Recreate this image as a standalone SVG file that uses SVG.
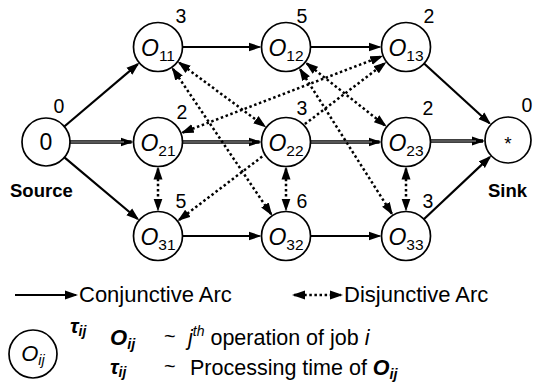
<svg xmlns="http://www.w3.org/2000/svg" width="533" height="383" viewBox="0 0 533 383">
<style>
text{font-family:"Liberation Sans",Arial,sans-serif;fill:#000}
.nd{fill:#fff;stroke:#000;stroke-width:1.7}
.lbl{font-size:23px}
.op{font-size:23px;font-style:italic}
.sub{font-size:15.5px}
.w{font-size:19.5px}
.tag{font-size:18.5px;font-weight:bold}
.conj{stroke:#000;stroke-width:2.2;fill:none;marker-end:url(#ah)}
.dbl{stroke:#000;stroke-width:3.6;fill:none;marker-end:url(#ah)}
.dblin{stroke:#aaa;stroke-width:1;fill:none}
.disj{stroke:#000;stroke-width:2.5;stroke-dasharray:2.5 2.6;fill:none;marker-start:url(#ah2);marker-end:url(#ah2)}
.leg{font-size:22px}
.bi{font-weight:bold;font-style:italic}
</style>
<defs>
<marker id="ah" viewBox="0 0 13 10" refX="11" refY="5" markerWidth="13" markerHeight="10" orient="auto" markerUnits="userSpaceOnUse"><path d="M0,0.5 L13,5 L0,9.5 z" fill="#000"/></marker>
<marker id="ah2" viewBox="0 0 13 10" refX="11" refY="5" markerWidth="13" markerHeight="10" orient="auto-start-reverse" markerUnits="userSpaceOnUse"><path d="M0,0.5 L13,5 L0,9.5 z" fill="#000"/></marker>
</defs>

<g id="connectors">
<path class="conj" d="M64.3,126.5 L137.8,64.1"/>
<path class="dbl" d="M70,142 L131.5,142"/><path class="dblin" d="M70,142 L124,142"/>
<path class="conj" d="M64.4,157.4 L137.7,219"/>
<path class="conj" d="M182.5,47 L259.5,47"/>
<path class="conj" d="M310.5,47 L379.5,47"/>
<path class="dbl" d="M182.5,142 L259.5,142"/><path class="dblin" d="M182.5,142 L252,142"/>
<path class="dbl" d="M310.5,142 L379.5,142"/><path class="dblin" d="M310.5,142 L372,142"/>
<path class="conj" d="M182.5,236 L259.5,236"/>
<path class="conj" d="M310.5,236 L379.5,236"/>
<path class="conj" d="M424.1,63.5 L489.5,123.2"/>
<path class="dbl" d="M430.5,141 L483,141"/><path class="dblin" d="M430.5,141 L476,141"/>
<path class="conj" d="M423.8,219.2 L489.8,157.1"/>

<path class="disj" d="M158,168.5 L158,209.5"/>
<path class="disj" d="M286,168.5 L286,209.5"/>
<path class="disj" d="M406,168.5 L406,209.5"/>
<path class="disj" d="M179.3,62.8 L264.7,126.2"/>
<path class="disj" d="M172.9,68.9 L271.1,214.1"/>
<path class="disj" d="M182.7,132.5 L381.3,56.5"/>
<path class="disj" d="M179.1,219.9 L384.9,63.1"/>
<path class="disj" d="M306.8,63.5 L385.2,125.6"/>
<path class="disj" d="M300.2,69.4 L391.8,213.6"/>
</g>

<g id="n-source">
<circle class="nd" cx="46" cy="142" r="24"/>
<text class="lbl" x="46" y="150" text-anchor="middle">0</text>
<text class="w" x="59" y="113" text-anchor="middle">0</text>
<text class="tag" x="10" y="197">Source</text>
</g>
<g id="n-o11">
<circle class="nd" cx="158" cy="47" r="24.5"/>
<text x="158" y="56" text-anchor="middle"><tspan class="op">O</tspan><tspan class="sub" dy="5">11</tspan></text>
<text class="w" x="181" y="23" text-anchor="middle">3</text>
</g>
<g id="n-o12">
<circle class="nd" cx="286" cy="47" r="24.5"/>
<text x="286" y="56" text-anchor="middle"><tspan class="op">O</tspan><tspan class="sub" dy="5">12</tspan></text>
<text class="w" x="302" y="23" text-anchor="middle">5</text>
</g>
<g id="n-o13">
<circle class="nd" cx="406" cy="47" r="24.5"/>
<text x="406" y="56" text-anchor="middle"><tspan class="op">O</tspan><tspan class="sub" dy="5">13</tspan></text>
<text class="w" x="429" y="23" text-anchor="middle">2</text>
</g>
<g id="n-o21">
<circle class="nd" cx="158" cy="142" r="24.5"/>
<text x="158" y="151" text-anchor="middle"><tspan class="op">O</tspan><tspan class="sub" dy="5">21</tspan></text>
<text class="w" x="182" y="119" text-anchor="middle">2</text>
</g>
<g id="n-o22">
<circle class="nd" cx="286" cy="142" r="24.5"/>
<text x="286" y="151" text-anchor="middle"><tspan class="op">O</tspan><tspan class="sub" dy="5">22</tspan></text>
<text class="w" x="302" y="115" text-anchor="middle">3</text>
</g>
<g id="n-o23">
<circle class="nd" cx="406" cy="142" r="24.5"/>
<text x="406" y="151" text-anchor="middle"><tspan class="op">O</tspan><tspan class="sub" dy="5">23</tspan></text>
<text class="w" x="428" y="115" text-anchor="middle">2</text>
</g>
<g id="n-o31">
<circle class="nd" cx="158" cy="236" r="24.5"/>
<text x="158" y="245" text-anchor="middle"><tspan class="op">O</tspan><tspan class="sub" dy="5">31</tspan></text>
<text class="w" x="181" y="208" text-anchor="middle">5</text>
</g>
<g id="n-o32">
<circle class="nd" cx="286" cy="236" r="24.5"/>
<text x="286" y="245" text-anchor="middle"><tspan class="op">O</tspan><tspan class="sub" dy="5">32</tspan></text>
<text class="w" x="302" y="208" text-anchor="middle">6</text>
</g>
<g id="n-o33">
<circle class="nd" cx="406" cy="236" r="24.5"/>
<text x="406" y="245" text-anchor="middle"><tspan class="op">O</tspan><tspan class="sub" dy="5">33</tspan></text>
<text class="w" x="428" y="208" text-anchor="middle">3</text>
</g>
<g id="n-sink">
<circle class="nd" cx="508" cy="140" r="23"/>
<text x="508" y="150" font-size="19" text-anchor="middle">*</text>
<text class="w" x="527" y="112" text-anchor="middle">0</text>
<text class="tag" x="488" y="197">Sink</text>
</g>

<g id="legend">
<path class="conj" d="M15,295 L76,295"/>
<text class="leg" x="79" y="302">Conjunctive Arc</text>
<path class="disj" d="M294,295 L341,295"/>
<text class="leg" x="344" y="302">Disjunctive Arc</text>
<circle class="nd" cx="33" cy="354" r="24"/>
<text x="33" y="361" text-anchor="middle"><tspan font-size="22" font-style="italic">O</tspan><tspan font-size="14.5" font-style="italic" dy="4">ij</tspan></text>
<text class="bi" x="70" y="333"><tspan font-size="21">τ</tspan><tspan font-size="14" dy="3">ij</tspan></text>
<text class="bi" x="110" y="345"><tspan font-size="22">O</tspan><tspan font-size="14.5" dy="4">ij</tspan></text>
<text x="164" y="343" font-size="20">~</text>
<text x="188" y="345" font-size="21.5"><tspan font-style="italic">j</tspan><tspan font-style="italic" font-size="14" dy="-9">th</tspan><tspan dy="9"> operation of job </tspan><tspan font-style="italic">i</tspan></text>
<text class="bi" x="110" y="374"><tspan font-size="21">τ</tspan><tspan font-size="14" dy="3">ij</tspan></text>
<text x="164" y="373" font-size="20">~</text>
<text x="190" y="375" font-size="21.5">Processing time of <tspan class="bi">O</tspan><tspan class="bi" font-size="14.5" dy="4">ij</tspan></text>
</g>
</svg>
